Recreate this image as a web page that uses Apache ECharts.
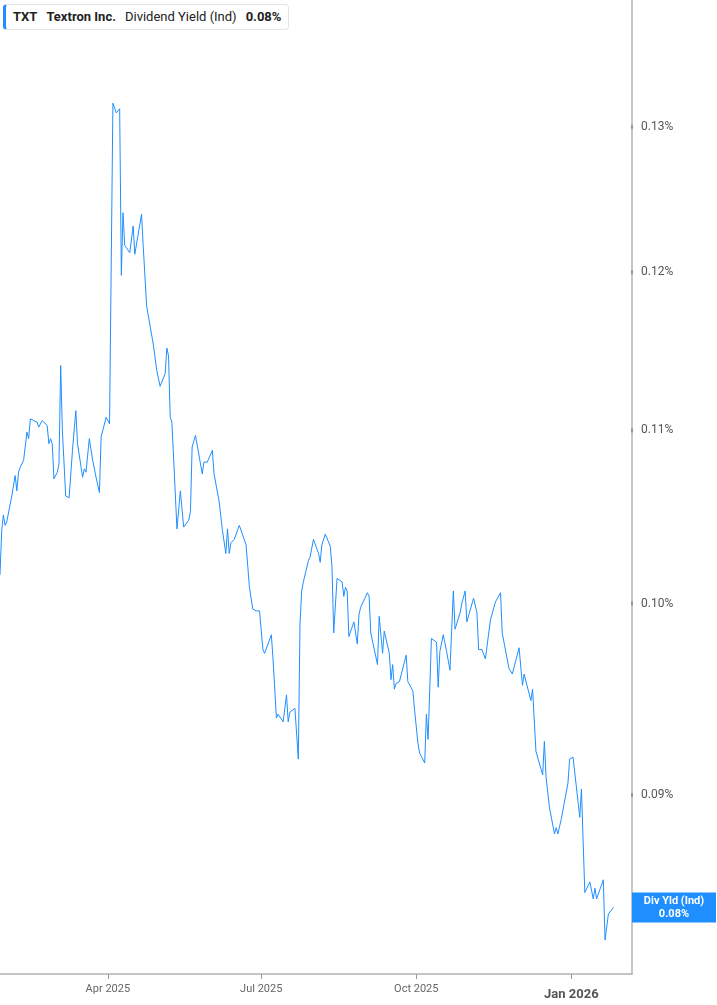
<!DOCTYPE html>
<html>
<head>
<meta charset="utf-8">
<title>TXT Dividend Yield (Ind)</title>
<script src="https://cdn.jsdelivr.net/npm/echarts@6.0.0/dist/echarts.min.js"></script>
<style>
  html, body { margin: 0; padding: 0; background: #fff; }
  #chart { width: 717px; height: 1005px; }
  #legend {
    position: absolute; left: 3px; top: 4px; height: 24px; width: 275px;
    border: 1px solid #e4e4e4; border-left: 3px solid #1f8fff; border-radius: 4px;
    background: #fff; font-family: Roboto, "Noto Sans", sans-serif; font-size: 13px;
    color: #222; line-height: 24px; padding-left: 7px; white-space: nowrap;
  }
  #legend b { font-weight: 700; margin-right: 9px; }
  #legend span { margin-right: 9px; }
</style>
</head>
<body>
<div id="chart"></div>
<div id="legend"><b>TXT</b><b>Textron Inc.</b><span>Dividend Yield (Ind)</span><b id="lastVal"></b></div>
<script>
// dividend yield (%)
var dates = [
  '2025-01-27','2025-01-28','2025-01-29','2025-01-30','2025-01-31','2025-02-03','2025-02-04','2025-02-05','2025-02-06','2025-02-07',
  '2025-02-08','2025-02-10','2025-02-11','2025-02-12','2025-02-13','2025-02-14','2025-02-16','2025-02-18','2025-02-19','2025-02-21',
  '2025-02-24','2025-02-25','2025-02-26','2025-02-27','2025-02-28','2025-03-02','2025-03-03','2025-03-04','2025-03-05','2025-03-07',
  '2025-03-09','2025-03-11','2025-03-13','2025-03-14','2025-03-17','2025-03-18','2025-03-19','2025-03-21','2025-03-23','2025-03-25',
  '2025-03-27','2025-03-28','2025-03-31','2025-04-01','2025-04-02','2025-04-04','2025-04-06','2025-04-07','2025-04-08','2025-04-09',
  '2025-04-10','2025-04-11','2025-04-14','2025-04-16','2025-04-17','2025-04-21','2025-04-22','2025-04-24','2025-04-28','2025-04-30',
  '2025-05-01','2025-05-02','2025-05-05','2025-05-06','2025-05-07','2025-05-08','2025-05-09','2025-05-12','2025-05-14','2025-05-16',
  '2025-05-19','2025-05-20','2025-05-21','2025-05-22','2025-05-23','2025-05-27','2025-05-28','2025-05-30','2025-06-02','2025-06-03',
  '2025-06-04','2025-06-06','2025-06-08','2025-06-10','2025-06-11','2025-06-12','2025-06-13','2025-06-15','2025-06-18','2025-06-22',
  '2025-06-24','2025-06-26','2025-06-28','2025-06-30','2025-07-02','2025-07-03','2025-07-07','2025-07-08','2025-07-10','2025-07-11',
  '2025-07-14','2025-07-16','2025-07-17','2025-07-18','2025-07-21','2025-07-23','2025-07-24','2025-07-25','2025-07-26','2025-07-29',
  '2025-07-30','2025-08-01','2025-08-04','2025-08-05','2025-08-06','2025-08-08','2025-08-11','2025-08-12','2025-08-13','2025-08-15',
  '2025-08-18','2025-08-19','2025-08-20','2025-08-21','2025-08-22','2025-08-25','2025-08-27','2025-08-28','2025-08-29','2025-09-02',
  '2025-09-03','2025-09-04','2025-09-05','2025-09-08','2025-09-09','2025-09-11','2025-09-12','2025-09-15','2025-09-16','2025-09-17',
  '2025-09-18','2025-09-19','2025-09-21','2025-09-25','2025-09-26','2025-09-29','2025-09-30','2025-10-02','2025-10-03','2025-10-06',
  '2025-10-07','2025-10-08','2025-10-10','2025-10-13','2025-10-14','2025-10-15','2025-10-17','2025-10-19','2025-10-21','2025-10-23',
  '2025-10-24','2025-10-27','2025-10-28','2025-10-29','2025-10-30','2025-10-31','2025-11-04','2025-11-06','2025-11-07','2025-11-09',
  '2025-11-11','2025-11-12','2025-11-14','2025-11-17','2025-11-20','2025-11-21','2025-11-25','2025-11-27','2025-12-01','2025-12-03',
  '2025-12-04','2025-12-08','2025-12-09','2025-12-11','2025-12-15','2025-12-16','2025-12-17','2025-12-19','2025-12-22','2025-12-23',
  '2025-12-24','2025-12-26','2025-12-30','2025-12-31','2026-01-02','2026-01-04','2026-01-06','2026-01-07','2026-01-09','2026-01-12',
  '2026-01-14','2026-01-15','2026-01-16','2026-01-20','2026-01-21','2026-01-23','2026-01-26'
];
var yieldValues = [
  0.1016,0.1041,0.1050,0.1044,0.1046,0.1061,0.1062,0.1073,0.1064,0.1075,
  0.1078,0.1082,0.1081,0.1099,0.1095,0.1107,0.1106,0.1105,0.1102,0.1106,
  0.1103,0.1092,0.1095,0.1092,0.1071,0.1075,0.1080,0.1140,0.1100,0.1061,
  0.1060,0.1088,0.1112,0.1092,0.1072,0.1077,0.1075,0.1095,0.1082,0.1072,
  0.1063,0.1096,0.1108,0.1108,0.1104,0.1317,0.1310,0.1310,0.1313,0.1198,
  0.1240,0.1218,0.1213,0.1231,0.1212,0.1239,0.1217,0.1178,0.1153,0.1137,
  0.1138,0.1127,0.1135,0.1151,0.1146,0.1108,0.1105,0.1042,0.1064,0.1043,
  0.1047,0.1052,0.1090,0.1089,0.1097,0.1074,0.1081,0.1081,0.1088,0.1074,
  0.1074,0.1058,0.1041,0.1028,0.1042,0.1028,0.1034,0.1036,0.1044,0.1033,
  0.1009,0.0997,0.0996,0.0996,0.0975,0.0973,0.0983,0.0970,0.0939,0.0941,
  0.0937,0.0951,0.0937,0.0942,0.0944,0.0918,0.0989,0.1007,0.1012,0.1024,
  0.1026,0.1036,0.1028,0.1023,0.1033,0.1039,0.1032,0.1020,0.0984,0.1014,
  0.1012,0.1004,0.1009,0.1007,0.0982,0.0990,0.0978,0.0994,0.0998,0.1006,
  0.1004,0.0984,0.0983,0.0967,0.0993,0.0973,0.0985,0.0973,0.0959,0.0967,
  0.0954,0.0957,0.0958,0.0972,0.0958,0.0953,0.0943,0.0926,0.0921,0.0916,
  0.0941,0.0928,0.0981,0.0979,0.0955,0.0974,0.0983,0.0974,0.0964,0.1007,
  0.0986,0.0995,0.1000,0.1000,0.1007,0.0990,0.1003,0.0995,0.0975,0.0975,
  0.0970,0.0970,0.0991,0.1001,0.1006,0.0984,0.0965,0.0962,0.0976,0.0956,
  0.0962,0.0948,0.0954,0.0922,0.0910,0.0927,0.0909,0.0894,0.0881,0.0884,
  0.0881,0.0888,0.0906,0.0918,0.0919,0.0904,0.0889,0.0903,0.0853,0.0858,
  0.0850,0.0855,0.0850,0.0859,0.0831,0.0843,0.0846
];
var yTicks = [0.09, 0.10, 0.11, 0.12, 0.13];
var xTicks = ['2025-04-01', '2025-07-01', '2025-10-01', '2026-01-01'];
var monthNames = ['Jan','Feb','Mar','Apr','May','Jun','Jul','Aug','Sep','Oct','Nov','Dec'];

var lineColor = '#1f8fff';
var last = yieldValues[yieldValues.length - 1];
document.getElementById('lastVal').textContent = last.toFixed(2) + '%';

function toTime(s) {
  var p = s.split('-');
  return new Date(+p[0], +p[1] - 1, +p[2]).getTime();
}
var seriesData = dates.map(function (d, i) { return [toTime(d), yieldValues[i]]; });
var xTickValues = xTicks.map(toTime);
var xMin = toTime('2025-01-27');
var xMax = toTime('2026-02-06');

var chart = echarts.init(document.getElementById('chart'));
chart.setOption({
  animation: false,
  grid: { left: 0, right: 85, top: 0, bottom: 31 },
  xAxis: {
    type: 'value',
    min: xMin,
    max: xMax,
    axisLine: { onZero: false, lineStyle: { color: '#b3b3b3', width: 1.5 } },
    axisTick: { show: true, customValues: xTickValues, length: 5, lineStyle: { color: '#999' } },
    axisLabel: {
      customValues: xTickValues,
      margin: 10,
      color: '#666',
      fontSize: 11,
      fontFamily: 'Roboto',
      formatter: function (value) {
        var d = new Date(value);
        var txt = monthNames[d.getMonth()] + ' ' + d.getFullYear();
        return d.getMonth() === 0 ? '{yr|' + txt + '}' : txt;
      },
      rich: { yr: { fontSize: 13, fontWeight: 'bold', color: '#555', fontFamily: 'Roboto', padding: [4, 0, 0, 0] } }
    },
    splitLine: { show: false }
  },
  yAxis: {
    type: 'log',
    logBase: 10,
    position: 'right',
    min: 0.08156,
    max: 0.1394,
    axisLine: { show: true, lineStyle: { color: '#b3b3b3', width: 1.5 } },
    axisTick: { show: false },
    axisLabel: { show: false },
    splitLine: { show: false }
  },
  series: [{
    type: 'line',
    data: seriesData,
    showSymbol: false,
    lineStyle: { color: lineColor, width: 1 },
    itemStyle: { color: lineColor },
    markLine: {
      silent: true,
      animation: false,
      symbol: ['none', 'rect'],
      symbolSize: [4, 1.2],
      lineStyle: { width: 0, color: '#777', type: 'solid' },
      label: {
        show: true,
        position: 'end',
        distance: 9,
        color: '#555',
        fontSize: 12,
        fontFamily: 'Roboto',
        formatter: function (p) { return p.value.toFixed(2) + '%'; }
      },
      data: yTicks.map(function (v) { return { yAxis: v }; })
    },
    // last value flag sitting on the right axis
    markPoint: {
      silent: true,
      animation: false,
      symbol: 'rect',
      symbolSize: [84, 30],
      symbolOffset: ['50%', 0],
      itemStyle: { color: lineColor },
      label: {
        show: true,
        position: 'inside',
        color: '#fff',
        fontWeight: 'bold',
        fontSize: 11,
        lineHeight: 13,
        fontFamily: 'Roboto',
        align: 'center',
        formatter: function () { return 'Div Yld (Ind)\n' + last.toFixed(2) + '%'; }
      },
      data: [{ coord: [xMax, last] }]
    }
  }]
});
</script>
</body>
</html>
